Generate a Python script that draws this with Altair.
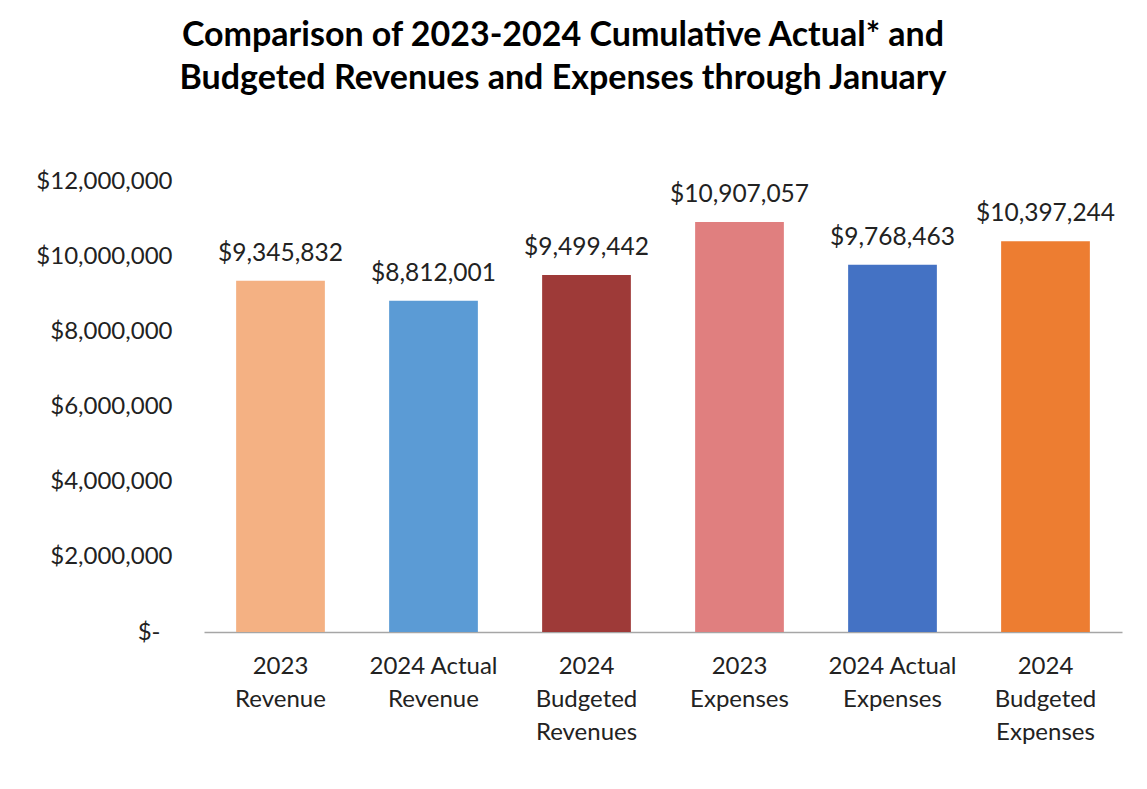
import altair as alt
import pandas as pd

categories = ["2023|Revenue", "2024 Actual|Revenue", "2024|Budgeted|Revenues",
              "2023|Expenses", "2024 Actual|Expenses", "2024|Budgeted|Expenses"]
values = [9345832, 8812001, 9499442, 10907057, 9768463, 10397244]
colors = ["#F4B183", "#5B9BD5", "#9E3A38", "#E07F7F", "#4472C4", "#ED7D31"]
y_ticks = [0, 2000000, 4000000, 6000000, 8000000, 10000000, 12000000]

df = pd.DataFrame({"category": categories, "value": values})
df["label"] = df["value"].map(lambda v: "${:,}".format(v))

FONT = "Lato"

x = alt.X("category:N", sort=categories, title=None,
          scale=alt.Scale(paddingInner=0.42, paddingOuter=0.21),
          axis=alt.Axis(labelExpr="split(datum.value, '|')", labelAngle=0,
                        labelFont=FONT, labelFontSize=24, labelColor="#222222",
                        labelLineHeight=33, labelPadding=22, labelBaseline="top",
                        ticks=False, domainColor="#A6A6A6", domainWidth=1.5))
y = alt.Y("value:Q", title=None,
          scale=alt.Scale(domain=[0, 12000000], nice=False),
          axis=alt.Axis(values=y_ticks, grid=False, domain=False, ticks=False,
                        labelExpr="datum.value == 0 ? '$-\u2002\u2060' : '$' + format(datum.value, ',')",
                        labelFont=FONT, labelFontSize=24, labelColor="#222222",
                        labelPadding=32))

bars = alt.Chart(df).mark_bar().encode(
    x=x, y=y,
    color=alt.Color("category:N", sort=categories,
                    scale=alt.Scale(domain=categories, range=colors), legend=None),
)
text = alt.Chart(df).mark_text(baseline="alphabetic", dy=-20, font=FONT, fontSize=24.5,
                               color="#222222").encode(
    x=alt.X("category:N", sort=categories), y="value:Q", text="label:N")

chart = (bars + text).properties(
    width=918, height=451,
    title=alt.TitleParams(
        ["Comparison of 2023-2024 Cumulative Actual* and",
         "Budgeted Revenues and Expenses through January"],
        font=FONT, fontSize=34, fontWeight="bold", color="#000000",
        lineHeight=43, anchor="middle", dx=-100, offset=73),
    autosize=alt.AutoSizeParams(type="none"),
    padding={"left": 196, "top": 173, "right": 17, "bottom": 149},
).configure_view(stroke=None)

chart.save("out.html", embed_options={"renderer": "svg", "actions": False})
